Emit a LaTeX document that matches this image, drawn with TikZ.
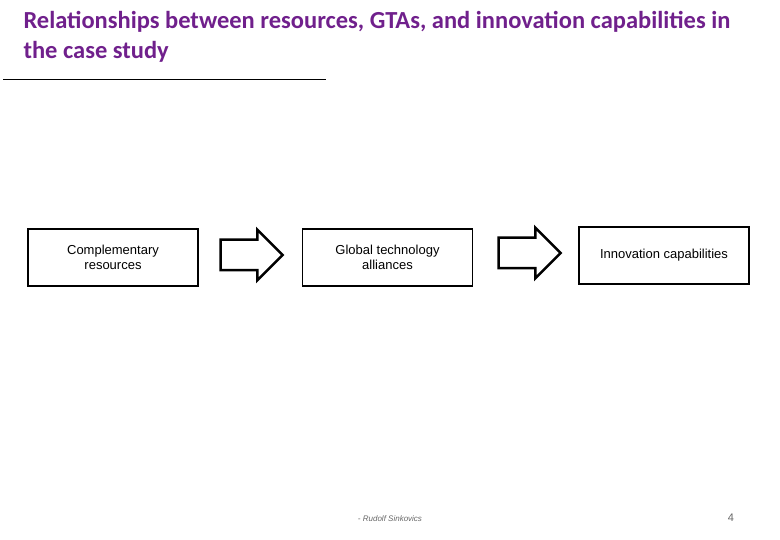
\documentclass[tikz,border=0pt]{standalone}
\usepackage{fontspec}
\setmainfont{Liberation Sans}
\newfontfamily\titlefont{Carlito}
\usetikzlibrary{shapes.arrows}
\definecolor{titlepurple}{RGB}{112,32,140}
\tikzstyle{stepbox}=[draw,line width=1.5pt,minimum width=170pt,minimum height=57pt,align=center,font=\fontsize{13}{15}\selectfont]
\tikzstyle{fatarrow}=[single arrow,draw,line width=2.5pt,minimum height=62pt,minimum width=50pt,single arrow head extend=10pt,single arrow head indent=0pt,inner sep=0pt,inner ysep=14pt,shape border rotate=0]
\begin{document}
\begin{tikzpicture}[x=1pt,y=1pt]
    \useasboundingbox (0,0) rectangle (780,540);

    \node[anchor=north west,align=left,text=titlepurple,font=\titlefont\fontsize{24.5}{30}\selectfont\bfseries] (title) at (20,532) {Relationships between resources, GTAs, and innovation capabilities in\\the case study};
    \draw[line width=0.5pt] (3,461) coordinate (ruleA) -- (326,461) coordinate (ruleB);

    \foreach \x/\y/\name/\txt in {113/282.5/res/{Complementary\\resources}, 387.5/282.5/gta/{Global technology\\alliances}, 664/284.5/inno/{Innovation capabilities}}
        \node[stepbox] (\name) at (\x,\y) {\txt};

    \node[fatarrow] (arrA) at (244,285) {};
    \node[fatarrow] (arrB) at (522,287) {};

    \node[font=\itshape\fontsize{8}{9}\selectfont,text=black!60] (footer) at (390,21) {- Rudolf Sinkovics};
    \node[font=\fontsize{11}{12}\selectfont,text=black!60] (page) at (731,22) {4};
\end{tikzpicture}
\end{document}
